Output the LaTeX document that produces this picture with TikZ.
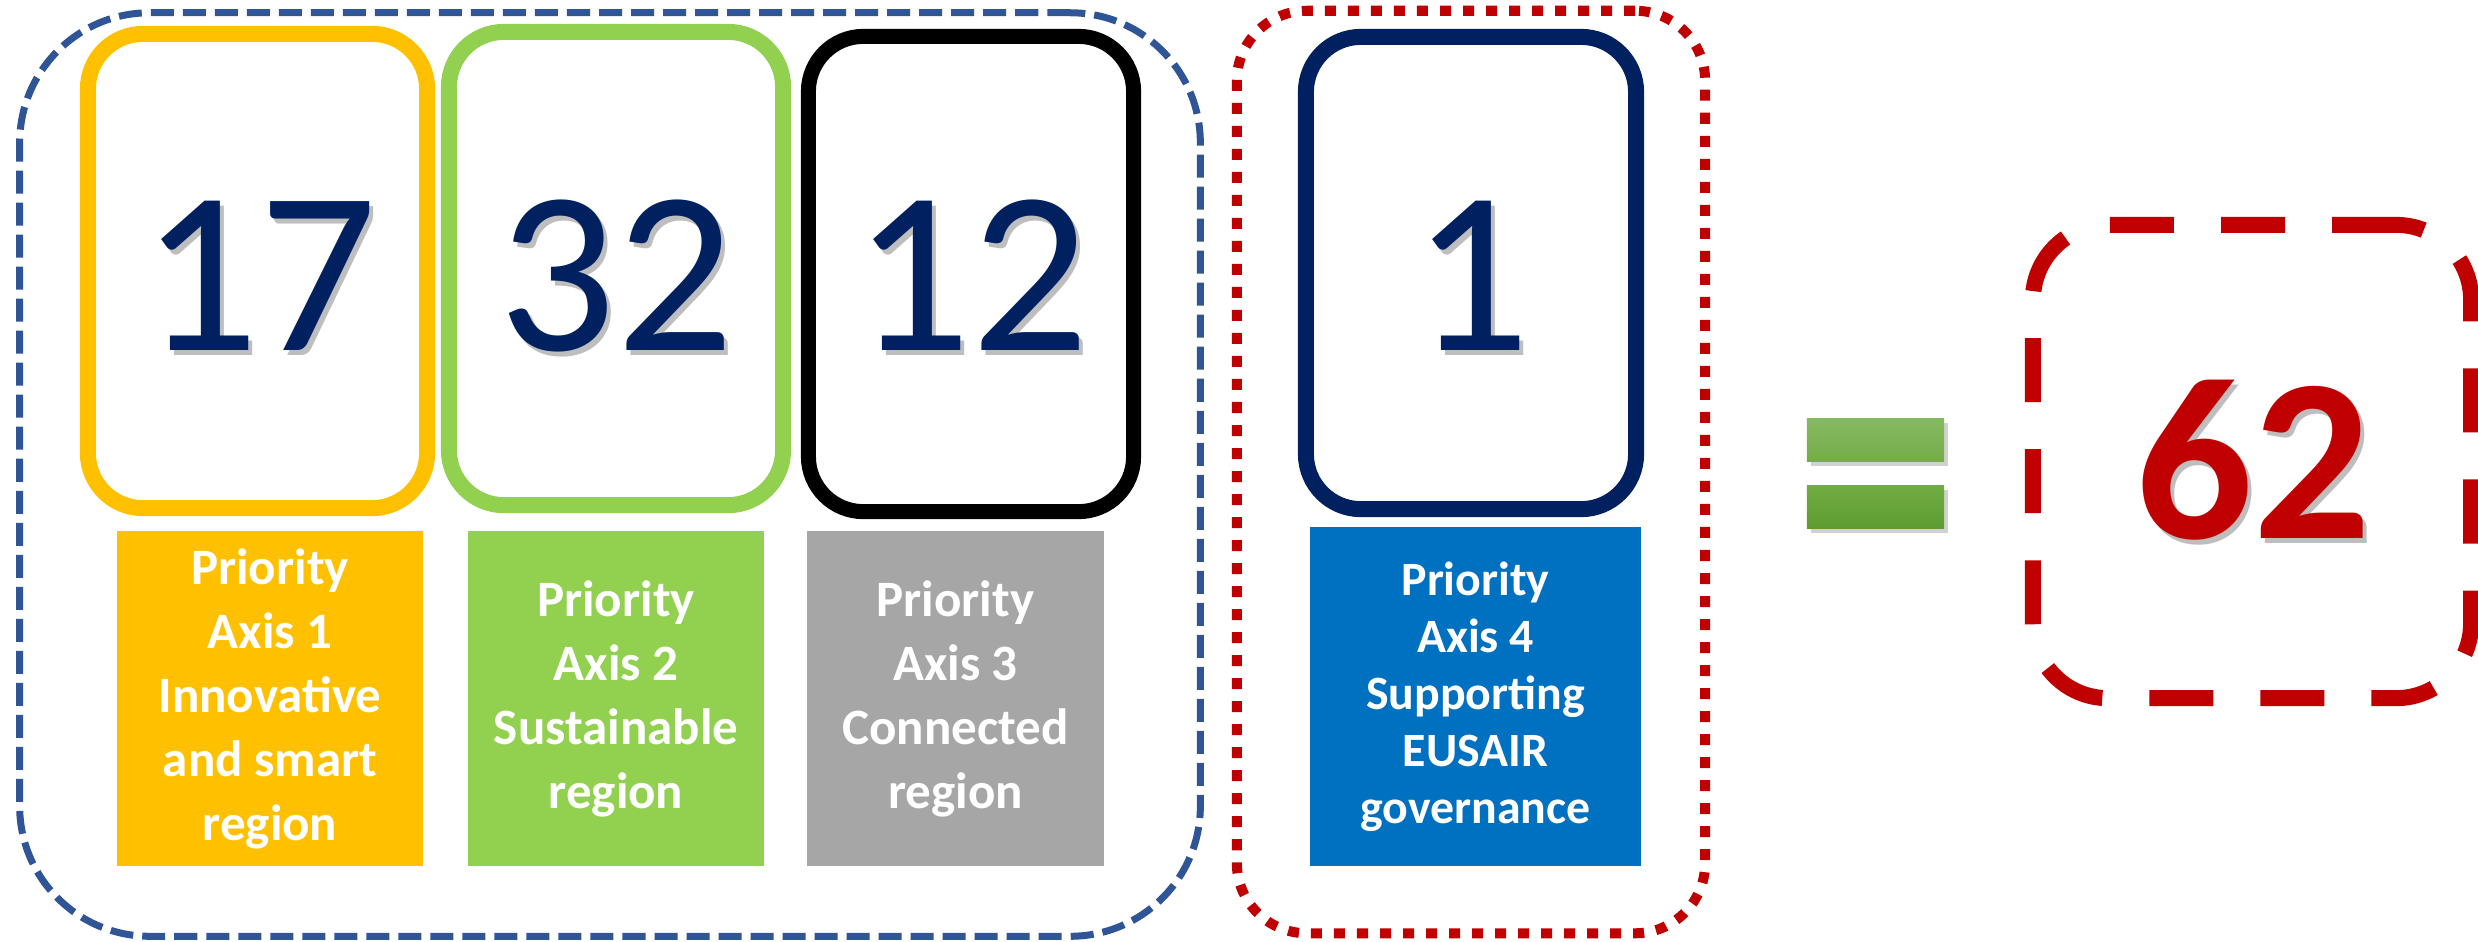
\documentclass[tikz,border=0pt]{standalone}
\usepackage{fontspec}
\setmainfont{Carlito}
\definecolor{dashblue}{RGB}{47,85,151}
\definecolor{navy}{RGB}{0,32,96}
\definecolor{axisyellow}{RGB}{255,192,0}
\definecolor{axisgreen}{RGB}{146,208,80}
\definecolor{axisgray}{RGB}{166,166,166}
\definecolor{axisblue}{RGB}{0,112,192}
\definecolor{darkred}{RGB}{192,0,0}
\definecolor{shadowgray}{RGB}{190,190,190}
\definecolor{eqtopA}{RGB}{134,186,96}
\definecolor{eqtopB}{RGB}{116,172,74}
\definecolor{eqbotA}{RGB}{112,172,66}
\definecolor{eqbotB}{RGB}{94,156,50}
\newcommand{\shadowed}[1]{\makebox[0pt][l]{\hspace{0.045cm}\raisebox{-0.05cm}{\textcolor{shadowgray}{#1}}}#1}
\begin{document}
\begin{tikzpicture}[x=0.01cm,y=-0.01cm,
  numbox/.style={draw, line width=0.16cm, rounded corners=0.55cm, inner sep=0pt},
  lab/.style={inner sep=0pt, text=white, align=center, font=\bfseries\fontsize{14.5}{18.2}\selectfont},
  labfour/.style={inner sep=0pt, text=white, align=center, font=\bfseries\fontsize{13.6}{16.2}\selectfont},
  numtxt/.style={anchor=base, text=navy, inner sep=0pt, font=\fontsize{66}{70}\selectfont},
  eqbar/.style={inner sep=0pt, minimum width=1.37cm, minimum height=0.43cm},
]
\useasboundingbox (0,0) rectangle (2478,941);

% group frames
\node[draw=dashblue, line width=0.07cm, dash pattern=on 0.23cm off 0.09cm, rounded corners=1.3cm,
      minimum width=11.8cm, minimum height=9.23cm, inner sep=0pt] (grp) at (610,474.5) {};
\node[draw=darkred, line width=0.10cm, dash pattern=on 0.11cm off 0.12cm, rounded corners=0.7cm,
      minimum width=4.68cm, minimum height=9.22cm, inner sep=0pt] (grpfour) at (1471,472) {};

% number boxes
\node[numbox, draw=axisyellow, minimum width=3.39cm, minimum height=4.74cm] (b1) at (257.5,271) {};
\node[numbox, draw=axisgreen, minimum width=3.34cm, minimum height=4.73cm] (b2) at (616,268.5) {};
\node[numbox, draw=black, line width=0.15cm, minimum width=3.25cm, minimum height=4.75cm] (b3) at (971,274) {};
\node[numbox, draw=navy, minimum width=3.30cm, minimum height=4.72cm] (b4) at (1471,273) {};

% numbers
\node[numtxt] (n1) at (259,350) {\shadowed{17}};
\node[numtxt] (n2) at (616,350) {\shadowed{32}};
\node[numtxt] (n3) at (971,350) {\shadowed{12}};
\node[numtxt] (n4) at (1471,350) {\shadowed{1}};

% labels
\node[lab, fill=axisyellow, minimum width=3.06cm, minimum height=3.35cm] (l1) at (270,698.5)
  {Priority\\Axis 1\\Innovative\\and smart\\region};
\node[lab, fill=axisgreen, minimum width=2.96cm, minimum height=3.35cm] (l2) at (616,698.5)
  {Priority\\Axis 2\\Sustainable\\region};
\node[lab, fill=axisgray, minimum width=2.97cm, minimum height=3.35cm] (l3) at (955.5,698.5)
  {Priority\\Axis 3\\Connected\\region};
\node[labfour, fill=axisblue, minimum width=3.31cm, minimum height=3.39cm] (l4) at (1475.5,696.5)
  {Priority\\Axis 4\\Supporting\\EUSAIR\\governance};

% equals sign
\fill[black, opacity=0.18] (1811,423) rectangle (1948,466);
\fill[black, opacity=0.18] (1811,490) rectangle (1948,533);
\node[eqbar, top color=eqtopA, bottom color=eqtopB] (eqa) at (1875.5,439.5) {};
\node[eqbar, top color=eqbotA, bottom color=eqbotB] (eqb) at (1875.5,506.5) {};

% total
\node[draw=darkred, line width=0.16cm, dash pattern=on 0.64cm off 0.47cm, rounded corners=0.75cm,
      minimum width=4.38cm, minimum height=4.73cm, inner sep=0pt] (tot) at (2252,461.5) {};
\node[anchor=base, text=darkred, inner sep=0pt, font=\bfseries\fontsize{66}{70}\selectfont] (n62) at (2253,538) {\shadowed{62}};
\end{tikzpicture}
\end{document}
